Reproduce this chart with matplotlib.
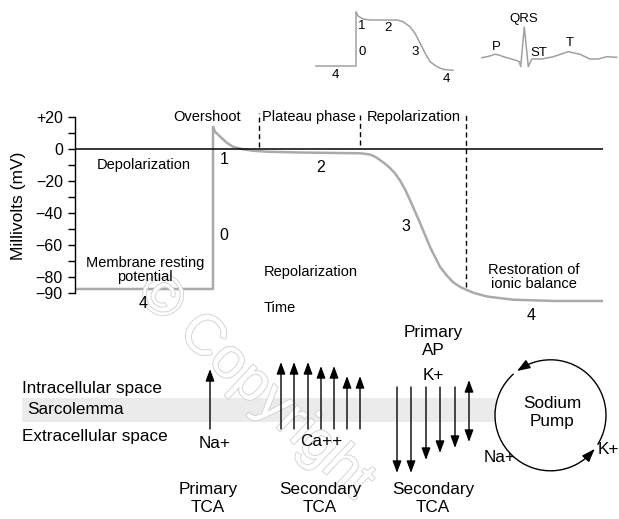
import matplotlib.pyplot as plt
import numpy as np
from matplotlib.patches import Rectangle, Arc
import matplotlib.patheffects as pe

plt.rcParams['font.family'] = ['Liberation Sans', 'DejaVu Sans']

# Potencial de acción principal (tiempo arbitrario, mV)
ap_time = [0, 138, 138, 140, 145, 152, 158, 168, 178, 192, 225, 285, 290, 295, 300,
           305, 310, 315, 320, 325, 330, 335, 345, 355, 365, 372, 378, 385, 392, 400,
           412, 438, 480, 528]
ap_mv = [-87.3, -87.3, 14, 11, 8, 4, 1.6, 0, -0.9, -1.5, -2, -2.5, -2.8, -3.3, -4.6,
         -6.7, -9, -11.7, -15, -19.5, -25, -31.7, -46, -61, -73.5, -79, -83, -86, -88, -90,
         -92, -94, -94.8, -94.8]

# Límites de fase (líneas discontinuas)
phase_t = [184, 285, 391]
phase_top = [22.5, 22.5, 22.5]
phase_bottom = [1.5, 2.5, -86]

y_major = [20, 0, -20, -40, -60, -80, -90]
y_labels = ['+20', '0', '\u221220', '\u221240', '\u221260', '\u221280', '\u221290']
y_minor = [10, -10, -30, -50, -70]

# Inserto: potencial de acción pequeño y ECG (coordenadas en píxeles)
ins_x = [316, 356, 356, 358, 363, 370, 397, 403, 410, 415, 420, 425, 430, 437, 443, 453]
ins_y = [66, 66, 11.7, 16, 19, 20, 20, 21.7, 26.7, 33.3, 43, 53, 61.7, 66.7, 69.3, 70.3]
ecg_x = [481.7, 488, 495, 499, 503.3, 515, 519.3, 520.7, 524.3, 528.3, 531.7, 541.7,
         553.3, 568.3, 580, 590, 598.3, 606.7, 616.7]
ecg_y = [57.7, 56.5, 54.3, 55, 56.7, 60, 61.7, 66.7, 27, 66.7, 59, 59,
         56.7, 51.7, 54.3, 59, 59, 56.7, 57.3]

# Flechas de iones
na_x, na_tail, na_tip = [210], [429], [369]
ca_x = [281, 294, 308, 321, 334, 347, 360]
ca_tip = [362, 362, 362, 366, 366, 376, 376]
ca_tail = [429] * 7
k_x = [397, 411, 426, 440, 455]
k_top = [387] * 5
k_tip = [473, 473, 460, 453, 448]
dbl_x, dbl_top, dbl_bot = 469, 380, 442

W, H = 619, 519
fig = plt.figure(figsize=(6.19, 5.19), dpi=100)

# Gráfico principal
ax = fig.add_axes([75 / W, (H - 310) / H, 528 / W, 210 / H])
ax.set_xlim(0, 528)
ax.set_ylim((149.3 - 310) / 1.6, (149.3 - 100) / 1.6)
ax.plot(ap_time, ap_mv, color='#aaaaaa', lw=1.8, solid_joinstyle='round')
ax.axhline(0, color='black', lw=1.1)
ax.vlines(phase_t, phase_bottom, phase_top, colors='black', linestyles=(0, (3.6, 2.4)), lw=1)
for s in ['top', 'right', 'bottom']:
    ax.spines[s].set_visible(False)
ax.spines['left'].set_bounds(-90, 20)
ax.spines['left'].set_linewidth(1)
ax.set_yticks(y_major)
ax.set_yticklabels(y_labels)
ax.set_yticks(y_minor, minor=True)
ax.tick_params(axis='y', which='both', length=4.8, width=1, labelsize=11.5, pad=4)
ax.set_xticks([])
ax.patch.set_visible(False)

# Capa en píxeles para el resto
ov = fig.add_axes([0, 0, 1, 1])
ov.set_xlim(0, W)
ov.set_ylim(H, 0)
ov.axis('off')
ov.patch.set_visible(False)

ov.add_patch(Rectangle((22, 398.3), 474, 23.4, color='#ebebeb', lw=0, zorder=0))

# Marca de agua
ov.text(255, 387, '\u00a9 Copyright', fontsize=41, rotation=-43, color='white',
        ha='center', va='center', zorder=1,
        path_effects=[pe.withStroke(linewidth=1.3, foreground='#d2d2d2')])

ov.plot(ins_x, ins_y, color='#a0a0a0', lw=1.1, zorder=2)
ov.plot(ecg_x, ecg_y, color='#a0a0a0', lw=1.1, zorder=2)

def txt(x, y, s, size=10.5, **kw):
    ov.text(x, y, s, fontsize=size, ha=kw.pop('ha', 'center'), va='center', zorder=3, **kw)

txt(19, 206, 'Millivolts (mV)', 12.5, rotation=90)
txt(207, 117, 'Overshoot')
txt(309, 117, 'Plateau phase')
txt(414, 117, 'Repolarization')
txt(144, 165, 'Depolarization')
txt(145, 270, 'Membrane resting\npotential', linespacing=0.95)
txt(311, 272, 'Repolarization')
txt(280, 308.5, 'Time')
txt(534, 277, 'Restoration of\nionic balance', linespacing=0.95)
for x, y, s in [(224, 160, '1'), (321, 167, '2'), (406, 226.5, '3'), (224, 236, '0'),
                (143, 303, '4'), (531, 316, '4')]:
    txt(x, y, s, 11.5)
for x, y, s in [(362, 26, '1'), (388, 28, '2'), (362, 51.7, '0'), (415, 52, '3'),
                (335, 75, '4'), (446, 79, '4'), (524, 19, 'QRS'), (496, 47.5, 'P'),
                (538.5, 53, 'ST'), (570, 42.5, 'T')]:
    txt(x, y, s, 9.5)

big = 12.3
txt(22, 388, 'Intracellular space', big, ha='left')
txt(27, 410, 'Sarcolemma', big, ha='left')
txt(22, 436, 'Extracellular space', big, ha='left')
txt(215, 443, 'Na+', big)
txt(321, 442, 'Ca++', big)
txt(433, 375, 'K+', big)
txt(433, 341.5, 'Primary\nAP', big)
txt(208, 498.5, 'Primary\nTCA', big)
txt(320, 498.5, 'Secondary\nTCA', big)
txt(433, 498.5, 'Secondary\nTCA', big)
txt(552, 412.5, 'Sodium\nPump', big)
txt(500, 458, 'Na+', big)
txt(608, 450, 'K+', big)

head = '-|>,head_length=0.6,head_width=0.22'
aprops = dict(arrowstyle=head, color='black', lw=1, mutation_scale=12,
              shrinkA=0, shrinkB=0)
for x, t0, t1 in zip(na_x + ca_x + k_x, na_tail + ca_tail + k_top, na_tip + ca_tip + k_tip):
    ov.annotate('', xy=(x, t1), xytext=(x, t0), arrowprops=aprops, zorder=3)
ov.annotate('', xy=(dbl_x, dbl_bot), xytext=(dbl_x, dbl_top),
            arrowprops=dict(aprops, arrowstyle='<|-|>,head_length=0.6,head_width=0.22'), zorder=3)

# Bomba de sodio
cx, cy, r = 550.5, 415.3, 55.5
ov.add_patch(Arc((cx, cy), 2 * r, 2 * r, theta1=-124, theta2=32, color='black', lw=1, zorder=3))
ov.add_patch(Arc((cx, cy), 2 * r, 2 * r, theta1=38.5, theta2=228.3, color='black', lw=1, zorder=3))
for tip_ang in [127, -37.5]:
    a1 = np.radians(tip_ang)
    a0 = np.radians(tip_ang - 10)
    ov.annotate('', xy=(cx + r * np.cos(a1), cy - r * np.sin(a1)),
                xytext=(cx + r * np.cos(a0), cy - r * np.sin(a0)),
                arrowprops=dict(aprops, mutation_scale=13), zorder=3)

fig.savefig('out.png', dpi=100)
